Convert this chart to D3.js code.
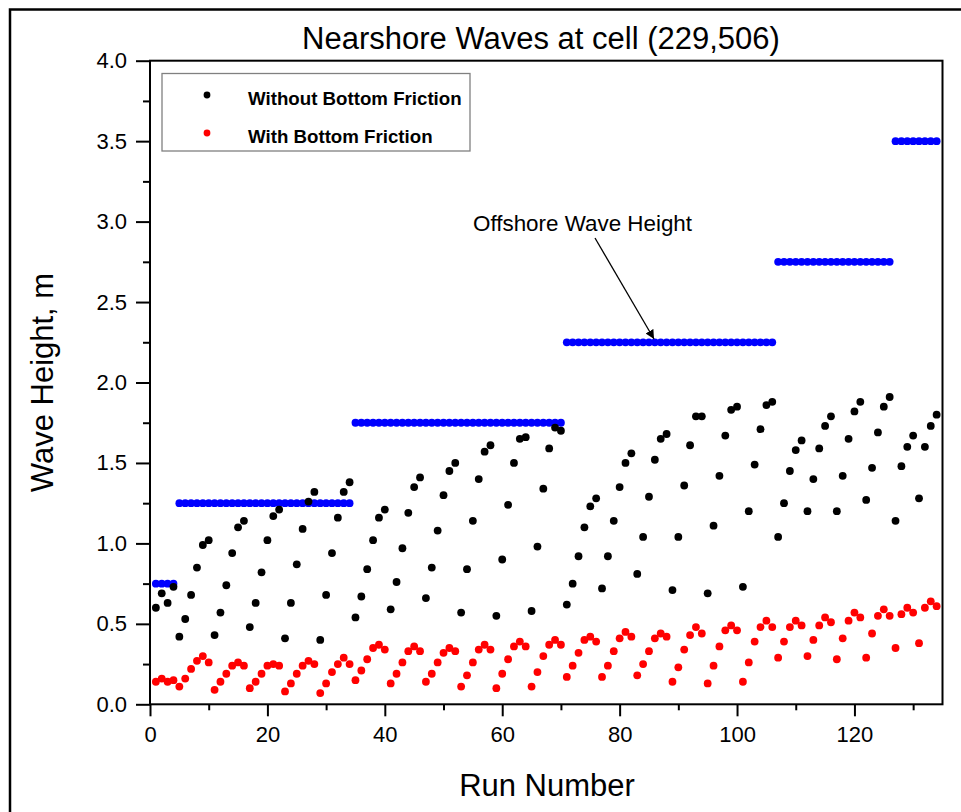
<!DOCTYPE html>
<html>
<head>
<meta charset="utf-8">
<script src="https://cdn.jsdelivr.net/npm/d3@7"></script>
<style>
  body { margin: 0; background: #fff; }
  text { font-family: "Liberation Sans", Arial, sans-serif; }
</style>
</head>
<body>
<div id="chart"></div>
<script>
/* DATA */
// run numbers 1..134
var runs = d3.range(1, 135);

// offshore wave height (blue), one value per run
var offshore = [
  0.75, 0.75, 0.75, 0.75,
  1.25, 1.25, 1.25, 1.25, 1.25, 1.25, 1.25, 1.25, 1.25, 1.25, 1.25, 1.25, 1.25, 1.25, 1.25,
  1.25, 1.25, 1.25, 1.25, 1.25, 1.25, 1.25, 1.25, 1.25, 1.25, 1.25, 1.25, 1.25, 1.25, 1.25,
  1.75, 1.75, 1.75, 1.75, 1.75, 1.75, 1.75, 1.75, 1.75, 1.75, 1.75, 1.75, 1.75, 1.75, 1.75, 1.75, 1.75, 1.75,
  1.75, 1.75, 1.75, 1.75, 1.75, 1.75, 1.75, 1.75, 1.75, 1.75, 1.75, 1.75, 1.75, 1.75, 1.75, 1.75, 1.75, 1.75,
  2.25, 2.25, 2.25, 2.25, 2.25, 2.25, 2.25, 2.25, 2.25, 2.25, 2.25, 2.25, 2.25, 2.25, 2.25, 2.25, 2.25, 2.25,
  2.25, 2.25, 2.25, 2.25, 2.25, 2.25, 2.25, 2.25, 2.25, 2.25, 2.25, 2.25, 2.25, 2.25, 2.25, 2.25, 2.25, 2.25,
  2.75, 2.75, 2.75, 2.75, 2.75, 2.75, 2.75, 2.75, 2.75, 2.75,
  2.75, 2.75, 2.75, 2.75, 2.75, 2.75, 2.75, 2.75, 2.75, 2.75,
  3.5, 3.5, 3.5, 3.5, 3.5, 3.5, 3.5, 3.5
];

// nearshore wave height without bottom friction (black)
var noFriction = [
  0.60, 0.69, 0.63, 0.73,
  0.42, 0.53, 0.68, 0.85, 0.99, 1.02,
  0.43, 0.57, 0.74, 0.94, 1.10, 1.14,
  0.48, 0.63, 0.82, 1.02, 1.17, 1.21,
  0.41, 0.63, 0.87, 1.09, 1.26, 1.32,
  0.40, 0.68, 0.94, 1.16, 1.32, 1.38,
  0.54, 0.67, 0.84, 1.02, 1.16, 1.21,
  0.59, 0.76, 0.97, 1.19, 1.35, 1.41,
  0.66, 0.85, 1.08, 1.30, 1.45, 1.50,
  0.57, 0.84, 1.14, 1.40, 1.57, 1.61,
  0.55, 0.90, 1.24, 1.50, 1.65, 1.66,
  0.58, 0.98, 1.34, 1.59, 1.72, 1.70,
  0.62, 0.75, 0.92, 1.10, 1.23, 1.28,
  0.72, 0.92, 1.14, 1.35, 1.50, 1.56,
  0.81, 1.04, 1.29, 1.52, 1.65, 1.68,
  0.71, 1.04, 1.36, 1.61, 1.79, 1.79,
  0.69, 1.11, 1.42, 1.67, 1.83, 1.85,
  0.73, 1.20, 1.49, 1.71, 1.86, 1.88,
  1.04, 1.25, 1.45, 1.58, 1.64,
  1.20, 1.40, 1.59, 1.73, 1.79,
  1.20, 1.42, 1.65, 1.82, 1.88,
  1.27, 1.47, 1.69, 1.85, 1.91,
  1.14, 1.48, 1.60, 1.67,
  1.28, 1.60, 1.73, 1.80
];

// nearshore wave height with bottom friction (red)
var withFriction = [
  0.14, 0.16, 0.14, 0.15,
  0.11, 0.16, 0.22, 0.27, 0.30, 0.26,
  0.09, 0.14, 0.19, 0.24, 0.26, 0.24,
  0.10, 0.14, 0.19, 0.24, 0.25, 0.24,
  0.08, 0.13, 0.19, 0.24, 0.27, 0.25,
  0.07, 0.13, 0.20, 0.25, 0.29, 0.25,
  0.15, 0.21, 0.28, 0.35, 0.37, 0.34,
  0.13, 0.19, 0.26, 0.33, 0.36, 0.33,
  0.14, 0.19, 0.26, 0.32, 0.35, 0.33,
  0.11, 0.18, 0.26, 0.34, 0.37, 0.34,
  0.10, 0.19, 0.28, 0.36, 0.39, 0.36,
  0.11, 0.20, 0.30, 0.37, 0.40, 0.37,
  0.17, 0.24, 0.32, 0.40, 0.42, 0.39,
  0.17, 0.24, 0.33, 0.41, 0.45, 0.42,
  0.18, 0.25, 0.33, 0.41, 0.44, 0.42,
  0.14, 0.23, 0.34, 0.43, 0.48, 0.44,
  0.13, 0.24, 0.36, 0.46, 0.49, 0.46,
  0.14, 0.26, 0.39, 0.48, 0.52, 0.48,
  0.29, 0.39, 0.48, 0.52, 0.49,
  0.30, 0.40, 0.49, 0.54, 0.51,
  0.28, 0.41, 0.52, 0.57, 0.54,
  0.29, 0.44, 0.55, 0.59, 0.55,
  0.35, 0.56, 0.60, 0.57,
  0.38, 0.60, 0.64, 0.61
];

var xMajor = [0, 20, 40, 60, 80, 100, 120];
var xMinor = [10, 30, 50, 70, 90, 110, 130];
var yMajor = [0, 0.5, 1.0, 1.5, 2.0, 2.5, 3.0, 3.5, 4.0];
var yMinor = [0.25, 0.75, 1.25, 1.75, 2.25, 2.75, 3.25, 3.75];

/* LAYOUT */
var W = 961, H = 812;
// plot box edges in pixels
var plot = {left: 150, right: 942.5, top: 60.7, bottom: 704.3};

var svg = d3.select("#chart").append("svg")
  .attr("width", W)
  .attr("height", H);

// outer frame (runs off the right and bottom edge)
svg.append("rect")
  .attr("x", 10).attr("y", 9.5)
  .attr("width", 1000).attr("height", 900)
  .attr("fill", "none").attr("stroke", "#000").attr("stroke-width", 2.5);

var x = d3.scaleLinear().domain([0, 135]).range([plot.left, plot.right]);
var y = d3.scaleLinear().domain([0, 4]).range([plot.bottom, plot.top]);

// minor ticks
svg.append("g")
  .attr("transform", "translate(0," + plot.bottom + ")")
  .call(d3.axisBottom(x).tickValues(xMinor).tickSize(6).tickSizeOuter(0).tickFormat(""))
  .call(g => g.select(".domain").remove())
  .selectAll("line").attr("stroke-width", 2);

svg.append("g")
  .attr("transform", "translate(" + plot.left + ",0)")
  .call(d3.axisLeft(y).tickValues(yMinor).tickSize(7).tickSizeOuter(0).tickFormat(""))
  .call(g => g.select(".domain").remove())
  .selectAll("line").attr("stroke-width", 2);

// major ticks
var gx = svg.append("g")
  .attr("transform", "translate(0," + plot.bottom + ")")
  .call(d3.axisBottom(x).tickValues(xMajor).tickSize(12).tickPadding(10).tickSizeOuter(0));
gx.select(".domain").remove();
gx.selectAll("line").attr("stroke-width", 2);
gx.selectAll("text")
  .attr("font-size", 22)
  .attr("fill", "#000")
  .style("font-family", "Liberation Sans, Arial, sans-serif");

var gy = svg.append("g")
  .attr("transform", "translate(" + plot.left + ",0)")
  .call(d3.axisLeft(y).tickValues(yMajor).tickSize(14).tickPadding(9).tickSizeOuter(0)
    .tickFormat(d3.format(".1f")));
gy.select(".domain").remove();
gy.selectAll("line").attr("stroke-width", 2);
gy.selectAll("text")
  .attr("font-size", 22)
  .attr("fill", "#000")
  .style("font-family", "Liberation Sans, Arial, sans-serif");

// plot frame
svg.append("rect")
  .attr("x", plot.left).attr("y", plot.top)
  .attr("width", plot.right - plot.left).attr("height", plot.bottom - plot.top)
  .attr("fill", "none").attr("stroke", "#000").attr("stroke-width", 2);

/* POINTS */
var r = 3.9;

svg.append("g").selectAll("circle")
  .data(runs)
  .enter().append("circle")
  .attr("cx", (d, i) => x(d))
  .attr("cy", (d, i) => y(offshore[i]))
  .attr("r", r)
  .attr("fill", "#0000ff");

svg.append("g").selectAll("circle")
  .data(runs)
  .enter().append("circle")
  .attr("cx", (d, i) => x(d))
  .attr("cy", (d, i) => y(noFriction[i]))
  .attr("r", r)
  .attr("fill", "#000");

svg.append("g").selectAll("circle")
  .data(runs)
  .enter().append("circle")
  .attr("cx", (d, i) => x(d))
  .attr("cy", (d, i) => y(withFriction[i]))
  .attr("r", r)
  .attr("fill", "#ff0000");

/* TEXTS */
svg.append("text")
  .attr("x", 541).attr("y", 49)
  .attr("text-anchor", "middle")
  .attr("font-size", 31)
  .text("Nearshore Waves at cell (229,506)");

svg.append("text")
  .attr("x", 547).attr("y", 796)
  .attr("text-anchor", "middle")
  .attr("font-size", 31)
  .text("Run Number");

svg.append("text")
  .attr("transform", "translate(53," + ((plot.top + plot.bottom) / 2) + ") rotate(-90)")
  .attr("text-anchor", "middle")
  .attr("font-size", 31)
  .text("Wave Height, m");

// legend
var legend = svg.append("g");
legend.append("rect")
  .attr("x", 162).attr("y", 73.5)
  .attr("width", 308).attr("height", 77.5)
  .attr("fill", "#fff").attr("stroke", "#808080").attr("stroke-width", 1.3);

var legendItems = [
  {label: "Without Bottom Friction", color: "#000", cy: 95},
  {label: "With Bottom Friction", color: "#ff0000", cy: 133}
];
legendItems.forEach(function(d) {
  legend.append("circle")
    .attr("cx", 207).attr("cy", d.cy).attr("r", 3.4).attr("fill", d.color);
  legend.append("text")
    .attr("x", 248).attr("y", d.cy + 10)
    .attr("font-size", 18.7).attr("font-weight", "bold")
    .text(d.label);
});

// annotation with arrow
svg.append("defs").append("marker")
  .attr("id", "arrow")
  .attr("viewBox", "0 0 10 10")
  .attr("refX", 10).attr("refY", 5)
  .attr("markerWidth", 9).attr("markerHeight", 9)
  .attr("markerUnits", "userSpaceOnUse")
  .attr("orient", "auto")
  .append("path")
  .attr("d", "M0,0 L10,5 L0,10 z")
  .attr("fill", "#000");

svg.append("text")
  .attr("x", 473).attr("y", 231)
  .attr("font-size", 22.4)
  .text("Offshore Wave Height");

svg.append("line")
  .attr("x1", 595).attr("y1", 238)
  .attr("x2", 654).attr("y2", 339)
  .attr("stroke", "#000").attr("stroke-width", 1.3)
  .attr("marker-end", "url(#arrow)");
</script>
</body>
</html>
